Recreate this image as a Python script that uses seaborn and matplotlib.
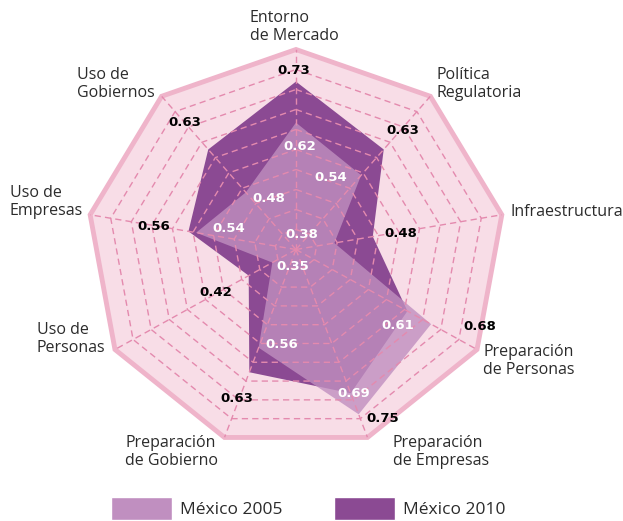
import numpy as np
import matplotlib
matplotlib.use("Agg")
import matplotlib.pyplot as plt
import seaborn as sns
from matplotlib.patches import Patch

# data
categories = ["Entorno\nde Mercado", "Política\nRegulatoria", "Infraestructura",
              "Preparación\nde Personas", "Preparación\nde Empresas", "Preparación\nde Gobierno",
              "Uso de\nPersonas", "Uso de\nEmpresas", "Uso de\nGobiernos"]
mexico_2005 = [0.62, 0.54, 0.38, 0.68, 0.75, 0.56, 0.35, 0.54, 0.48]
mexico_2010 = [0.73, 0.63, 0.48, 0.61, 0.69, 0.63, 0.42, 0.56, 0.63]
series_names = ["México 2005", "México 2010"]

# layout: radial range and label placement (theta in degrees, r in data units)
r_min, r_max = 0.28, 0.816
n_rings = 10
outer_lbl_pos = [(-0.6, 0.761), (40.8, 0.700), (80.7, 0.553), (113.5, 0.795), (154, 0.785),
                 (200.8, 0.706), (241, 0.515), (279.8, 0.649), (320, 0.723)]
inner_lbl_pos = [(2.1, 0.555), (25.1, 0.492), (20.3, 0.324), (128, 0.612), (159, 0.694),
                 (188, 0.538), (189.3, 0.3275), (287.8, 0.460), (333, 0.432)]
cat_lbl_pos = [(-11.2, 0.888, "left"), (39.2, 0.852, "left"), (79.6, 0.838, "left"),
               (121.9, 0.845, "left"), (155.4, 0.877, "left"), (200.2, 0.858, "right"),
               (243.9, 0.825, "right"), (283.1, 0.841, "right"), (320.8, 0.852, "right")]

c_2005 = "#c08fc0"
c_2010 = "#8b4a93"
bg_pink = "#f8dde7"
frame_pink = "#efb4ca"
grid_pink = "#e48aae"

sns.set_theme(style="white")
plt.rcParams["font.family"] = ["Open Sans", "DejaVu Sans"]

fig = plt.figure(figsize=(6.23, 5.21), dpi=100)
ax = fig.add_axes([0.1396, 0.1372, 0.671, 0.7678], projection="polar")
ax.set_theta_zero_location("N")
ax.set_theta_direction(-1)
ax.set_ylim(r_min, r_max)
ax.set_aspect("auto")

theta = np.deg2rad(np.arange(len(categories)) * 360 / len(categories))
theta_c = np.append(theta, theta[0])

def closed(v):
    return np.append(v, v[0])

# background frame
ax.fill(theta_c, closed([r_max] * len(theta)), facecolor=bg_pink, edgecolor=frame_pink,
        lw=3.5, clip_on=False, zorder=1)

# series
ax.fill(theta_c, closed(mexico_2010), color=c_2010, lw=0, zorder=2)
ax.fill(theta_c, closed(mexico_2005), color=c_2005, alpha=0.8, lw=0, zorder=3)

# dashed grid rings and spokes
for k in range(1, n_rings):
    rr = r_min + k * (r_max - r_min) / n_rings
    sns.lineplot(x=theta_c, y=closed([rr] * len(theta)), sort=False, estimator=None, ax=ax,
                 color=grid_pink, lw=1, linestyle=(0, (4.5, 3)), zorder=4)
for t in theta:
    ax.plot([t, t], [r_min, r_max], color=grid_pink, lw=1, linestyle=(0, (4.5, 3)), zorder=4)

ax.set_xlabel("")
ax.set_ylabel("")
ax.set_xticks([])
ax.set_yticks([])
ax.grid(False)
ax.spines["polar"].set_visible(False)
ax.patch.set_visible(False)

# value labels: larger value outside in black, smaller inside in white
for i in range(len(categories)):
    hi = max(mexico_2005[i], mexico_2010[i])
    lo = min(mexico_2005[i], mexico_2010[i])
    t, r = outer_lbl_pos[i]
    ax.text(np.deg2rad(t), r, f"{hi:.2f}", ha="center", va="center", fontsize=9.5,
            fontweight="bold", family="DejaVu Sans", color="black", zorder=6)
    t, r = inner_lbl_pos[i]
    ax.text(np.deg2rad(t), r, f"{lo:.2f}", ha="center", va="center", fontsize=9.5,
            fontweight="bold", family="DejaVu Sans", color="white", zorder=6)

# category labels
for name, (t, r, ha) in zip(categories, cat_lbl_pos):
    ax.text(np.deg2rad(t), r, name, ha=ha, va="center", multialignment="left",
            fontsize=11.5, color="#2b2b2b", clip_on=False, zorder=6)

handles = [Patch(facecolor=c_2005, label=series_names[0]),
           Patch(facecolor=c_2010, label=series_names[1])]
fig.legend(handles=handles, loc="center", bbox_to_anchor=(0.495, 0.024), ncol=2, frameon=False,
           fontsize=12.5, handlelength=3.5, handleheight=1.7, handletextpad=0.45,
           columnspacing=3.0, labelcolor="#2b2b2b")

fig.savefig("out.png", dpi=100, facecolor="white")
